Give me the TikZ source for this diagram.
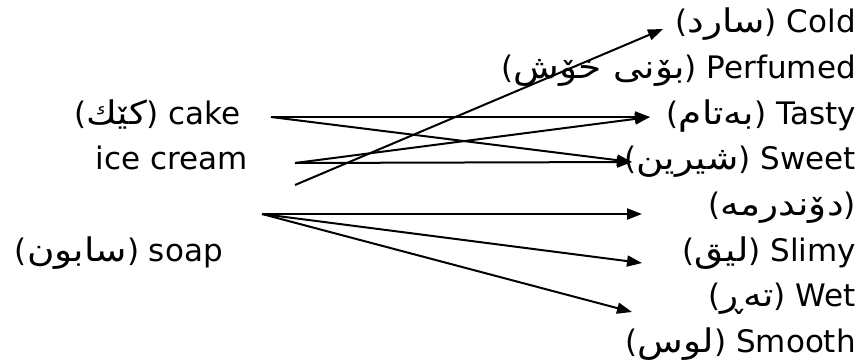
\documentclass[tikz,border=0pt]{standalone}
\usepackage{fontspec}
\setmainfont{DejaVu Sans}
\newfontfamily\kufont[Script=Arabic,Scale=1.05,FakeStretch=1.15]{DejaVu Sans}
\TeXXeTstate=1
\usetikzlibrary{arrows.meta}
\newcommand{\ku}[1]{({\kufont\beginR #1\endR})}
\begin{document}
\begin{tikzpicture}[x=1pt,y=-1pt,
    word/.style={anchor=base east,inner sep=0pt,font=\fontsize{31}{36}\selectfont},
    link/.style={line width=2pt,-{Triangle[length=15pt,width=11pt]}}]
    \useasboundingbox (0,0) rectangle (860,362);
    \node[word] (cold) at (856,32) {\ku{سارد} Cold};
    \node[word] (perfumed) at (856,78) {\ku{بۆنی خۆش} Perfumed};
    \node[word] (tasty) at (856,124) {\ku{بەتام} Tasty};
    \node[word] (sweet) at (856,169) {\ku{شیرین} Sweet};
    \node[word] (dondrma) at (856,215) {\ku{دۆندرمە}};
    \node[word] (slimy) at (856,261) {\ku{لیق} Slimy};
    \node[word] (wet) at (856,306) {\ku{تەڕ} Wet};
    \node[word] (smooth) at (856,352) {\ku{لوس} Smooth};
    \node[word] (cake) at (241,124) {\ku{کێك} cake};
    \node[word] (icecream) at (248,169) {ice cream};
    \node[word] (soap) at (223,261) {\ku{سابون} soap};
    \coordinate (C) at (271,117); \coordinate (I) at (295,163);
    \coordinate (I2) at (295,185); \coordinate (S) at (262,214);
    \coordinate (Tc) at (663,29);  \coordinate (Tt) at (650,117);
    \coordinate (Ts) at (632,162); \coordinate (Td) at (642,214);
    \coordinate (Tl) at (642,263); \coordinate (Tw) at (632,312);
    \draw[link] (C)--(Tt); \draw[link] (C)--(Ts);
    \draw[link] (I)--(Ts); \draw[link] (I)--(Tt);
    \draw[link] (I2)--(Tc);
    \draw[link] (S)--(Td); \draw[link] (S)--(Tl); \draw[link] (S)--(Tw);
  \end{tikzpicture}
\end{document}
